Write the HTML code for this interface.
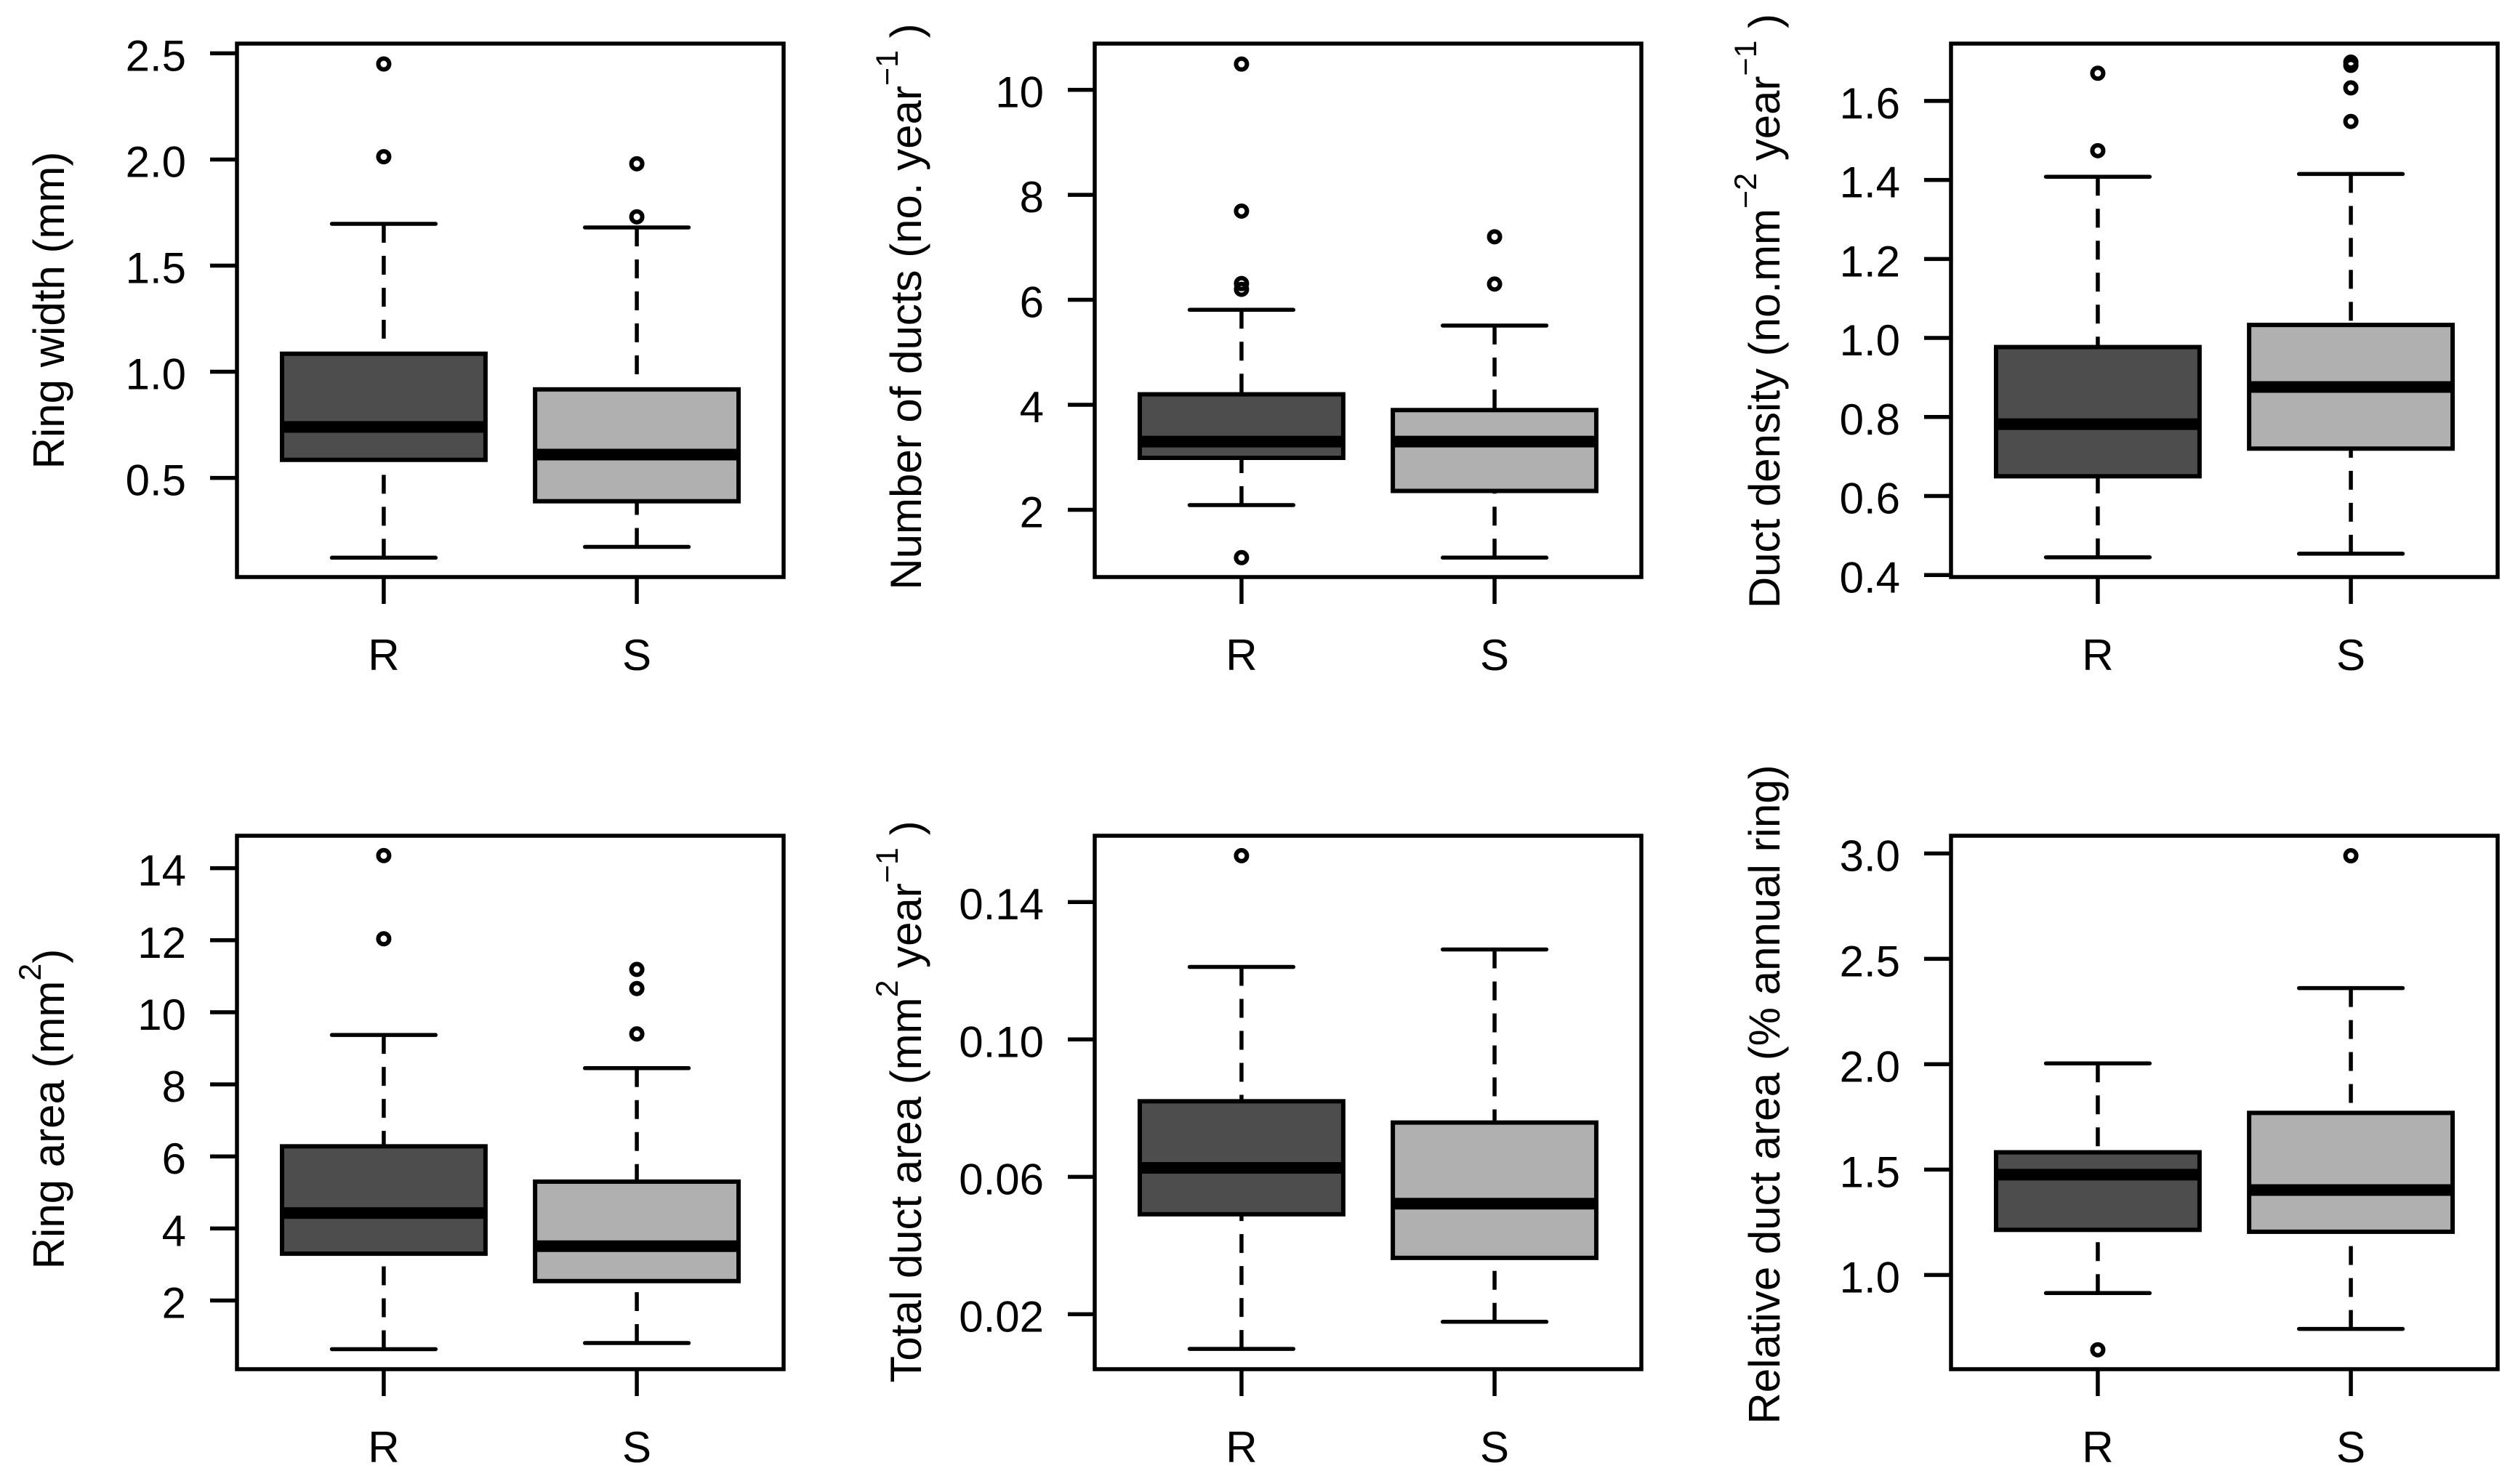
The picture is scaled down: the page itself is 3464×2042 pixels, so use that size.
<!DOCTYPE html>
<html lang="en">
<head>
<meta charset="utf-8">
<title>Ring and resin duct boxplots</title>
<style>
  html, body { margin: 0; padding: 0; background: #ffffff; }
  svg { display: block; }
  text { font-family: "Liberation Sans", Arial, sans-serif; fill: #000000; }
  .axis-title { font-size: 60px; }
  .sup { font-size: 43px; }
</style>
</head>
<body>
<svg id="chart" xmlns="http://www.w3.org/2000/svg" width="3464" height="2042" viewBox="0 0 3464 2042">
  <rect x="0" y="0" width="3464" height="2042" fill="#ffffff"/>
  <text class="axis-title" text-anchor="middle" transform="translate(88 427) rotate(-90)">Ring width (mm)</text>
  <text class="axis-title" text-anchor="middle" transform="translate(1267 422) rotate(-90)">Number of ducts (no. year<tspan class="sup" dy="-32">−1</tspan><tspan dy="32"> )</tspan></text>
  <text class="axis-title" text-anchor="middle" transform="translate(2448 428) rotate(-90)">Duct density (no.mm<tspan class="sup" dy="-32">−2</tspan><tspan dy="32"> year</tspan><tspan class="sup" dy="-32">−1</tspan><tspan dy="32"> )</tspan></text>
  <text class="axis-title" text-anchor="middle" transform="translate(88 1526) rotate(-90)">Ring area (mm<tspan class="sup" dy="-32">2</tspan><tspan dy="32">)</tspan></text>
  <text class="axis-title" text-anchor="middle" transform="translate(1267 1516) rotate(-90)">Total duct area (mm<tspan class="sup" dy="-32">2</tspan><tspan dy="32"> year</tspan><tspan class="sup" dy="-32">−1</tspan><tspan dy="32"> )</tspan></text>
  <text class="axis-title" text-anchor="middle" transform="translate(2448 1506) rotate(-90)">Relative duct area (% annual ring)</text>
</svg>
<script>
// Shared categories. Each stats array is [low whisker, Q1, median, Q3, high whisker].
const categories = ['R', 'S'];

const ringWidthTicks = ['0.5', '1.0', '1.5', '2.0', '2.5'];
const ringWidthLimits = [0.033, 2.546];
const ringWidthStatsR = [0.124, 0.585, 0.74, 1.085, 1.697];
const ringWidthStatsS = [0.175, 0.39, 0.61, 0.917, 1.68];
const ringWidthOutliersR = [2.013, 2.45];
const ringWidthOutliersS = [1.73, 1.98];

const ductCountTicks = ['2', '4', '6', '8', '10'];
const ductCountLimits = [0.72, 10.88];
const ductCountStatsR = [2.09, 2.99, 3.3, 4.2, 5.81];
const ductCountStatsS = [1.09, 2.36, 3.3, 3.9, 5.51];
const ductCountOutliersR = [1.09, 6.2, 6.31, 7.69, 10.49];
const ductCountOutliersS = [6.3, 7.2];

const ductDensityTicks = ['0.4', '0.6', '0.8', '1.0', '1.2', '1.4', '1.6'];
const ductDensityLimits = [0.395, 1.745];
const ductDensityStatsR = [0.445, 0.65, 0.782, 0.977, 1.408];
const ductDensityStatsS = [0.454, 0.72, 0.876, 1.033, 1.415];
const ductDensityOutliersR = [1.474, 1.67];
const ductDensityOutliersS = [1.548, 1.633, 1.69, 1.698];

const ringAreaTicks = ['2', '4', '6', '8', '10', '12', '14'];
const ringAreaLimits = [0.095, 14.9];
const ringAreaStatsR = [0.65, 3.3, 4.43, 6.28, 9.37];
const ringAreaStatsS = [0.82, 2.54, 3.51, 5.3, 8.45];
const ringAreaOutliersR = [12.04, 14.35];
const ringAreaOutliersS = [9.4, 10.66, 11.19];

const totalAreaTicks = ['0.02', '0.06', '0.10', '0.14'];
const totalAreaLimits = [0.004, 0.1593];
const totalAreaStatsR = [0.0099, 0.0491, 0.0626, 0.082, 0.1211];
const totalAreaStatsS = [0.0178, 0.0364, 0.0522, 0.0758, 0.1262];
const totalAreaOutliersR = [0.1535];
const totalAreaOutliersS = [];

const relativeAreaTicks = ['1.0', '1.5', '2.0', '2.5', '3.0'];
const relativeAreaLimits = [0.553, 3.084];
const relativeAreaStatsR = [0.914, 1.214, 1.476, 1.582, 2.004];
const relativeAreaStatsS = [0.744, 1.205, 1.403, 1.769, 2.361];
const relativeAreaOutliersR = [0.645];
const relativeAreaOutliersS = [2.989];

const panels = [
  { key: 'ring-width', col: 0, row: 0, ticks: ringWidthTicks, limits: ringWidthLimits, stats: [ringWidthStatsR, ringWidthStatsS], outliers: [ringWidthOutliersR, ringWidthOutliersS] },
  { key: 'number-of-ducts', col: 1, row: 0, ticks: ductCountTicks, limits: ductCountLimits, stats: [ductCountStatsR, ductCountStatsS], outliers: [ductCountOutliersR, ductCountOutliersS] },
  { key: 'duct-density', col: 2, row: 0, ticks: ductDensityTicks, limits: ductDensityLimits, stats: [ductDensityStatsR, ductDensityStatsS], outliers: [ductDensityOutliersR, ductDensityOutliersS] },
  { key: 'ring-area', col: 0, row: 1, ticks: ringAreaTicks, limits: ringAreaLimits, stats: [ringAreaStatsR, ringAreaStatsS], outliers: [ringAreaOutliersR, ringAreaOutliersS] },
  { key: 'total-duct-area', col: 1, row: 1, ticks: totalAreaTicks, limits: totalAreaLimits, stats: [totalAreaStatsR, totalAreaStatsS], outliers: [totalAreaOutliersR, totalAreaOutliersS] },
  { key: 'relative-duct-area', col: 2, row: 1, ticks: relativeAreaTicks, limits: relativeAreaLimits, stats: [relativeAreaStatsR, relativeAreaStatsS], outliers: [relativeAreaOutliersR, relativeAreaOutliersS] }
];

// Layout
const frameLefts = [326, 1506, 2684];
const frameTops = [60, 1150];
const frameWidth = 752;
const frameHeight = 734;
const boxFills = ['#4d4d4d', '#b0b0b0'];
const xDomain = [0.42, 2.58];
const boxHalf = 0.402;
const capHalf = 0.205;

const svg = document.getElementById('chart');
const NS = 'http://www.w3.org/2000/svg';

function make(parent, tag, attrs) {
  const el = document.createElementNS(NS, tag);
  for (const k in attrs) el.setAttribute(k, attrs[k]);
  parent.appendChild(el);
  return el;
}

panels.forEach(function (p) {
  const left = frameLefts[p.col];
  const top = frameTops[p.row];
  const bottom = top + frameHeight;

  const xScale = function (v) {
    return left + (v - xDomain[0]) / (xDomain[1] - xDomain[0]) * frameWidth;
  };
  const yScale = function (v) {
    return bottom - (v - p.limits[0]) / (p.limits[1] - p.limits[0]) * frameHeight;
  };

  const group = make(svg, 'g', {});
  
  

  // y ticks and labels
  p.ticks.forEach(function (label) {
    const y = yScale(Number(label));
    const tick = make(group, 'line', { x1: left - 37, x2: left, y1: y, y2: y, stroke: '#000', 'stroke-width': 5.5 });
    
    
    const text = make(group, 'text', { x: left - 70, y: y + 24, 'text-anchor': 'end', 'font-size': 60 });
    
    
    text.textContent = label;
  });

  // categories
  categories.forEach(function (cat, i) {
    const cx = xScale(i + 1);
    const s = p.stats[i];
    const low = yScale(s[0]);
    const q1 = yScale(s[1]);
    const med = yScale(s[2]);
    const q3 = yScale(s[3]);
    const high = yScale(s[4]);
    const bx0 = xScale(i + 1 - boxHalf);
    const bx1 = xScale(i + 1 + boxHalf);
    const cx0 = xScale(i + 1 - capHalf);
    const cx1 = xScale(i + 1 + capHalf);

    const xTick = make(group, 'line', { x1: cx, x2: cx, y1: bottom, y2: bottom + 37, stroke: '#000', 'stroke-width': 5.5 });
    
    

    const xLabel = make(group, 'text', { x: cx, y: bottom + 128, 'text-anchor': 'middle', 'font-size': 60 });
    
    
    xLabel.textContent = cat;

    const whiskerHigh = make(group, 'line', { x1: cx, x2: cx, y1: high, y2: q3, stroke: '#000', 'stroke-width': 5.5, 'stroke-dasharray': '26 18' });
    
    

    const whiskerLow = make(group, 'line', { x1: cx, x2: cx, y1: low, y2: q1, stroke: '#000', 'stroke-width': 5.5, 'stroke-dasharray': '26 18' });
    
    

    const capHigh = make(group, 'line', { x1: cx0, x2: cx1, y1: high, y2: high, stroke: '#000', 'stroke-width': 5.5, 'stroke-linecap': 'round' });
    
    

    const capLow = make(group, 'line', { x1: cx0, x2: cx1, y1: low, y2: low, stroke: '#000', 'stroke-width': 5.5, 'stroke-linecap': 'round' });
    
    

    const box = make(group, 'rect', { x: bx0, y: q3, width: bx1 - bx0, height: q1 - q3, fill: boxFills[i], stroke: '#000', 'stroke-width': 6 });
    
    

    const median = make(group, 'line', { x1: bx0, x2: bx1, y1: med, y2: med, stroke: '#000', 'stroke-width': 16 });
    
    

    p.outliers[i].forEach(function (v) {
      const dot = make(group, 'circle', { cx: cx, cy: yScale(v), r: 7.5, fill: 'none', stroke: '#000', 'stroke-width': 6 });
      
      
    });
  });

  const frame = make(group, 'rect', { x: left, y: top, width: frameWidth, height: frameHeight, fill: 'none', stroke: '#000', 'stroke-width': 5.5 });
  
  
});
</script>
</body>
</html>
